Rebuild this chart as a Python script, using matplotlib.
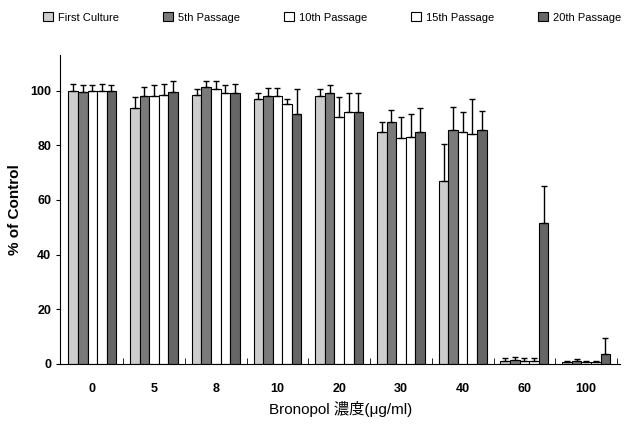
import numpy as np
import matplotlib
matplotlib.use('Agg')
import matplotlib.pyplot as plt

# Data
concentrations = ['0', '5', '8', '10', '20', '30', '40', '60', '100']
series = ['First Culture', '5th Passage', '10th Passage', '15th Passage', '20th Passage']

first_culture = [100, 93.5, 98.5, 97, 98, 85, 67, 1.0, 0.5]
passage_5 = [99.5, 98, 101.5, 98, 99, 88.5, 85.5, 1.5, 1.0]
passage_10 = [100, 98, 100.5, 98, 90.5, 82.5, 85, 1.0, 0.5]
passage_15 = [100, 98.5, 99, 95, 92, 83, 84, 1.0, 0.5]
passage_20 = [100, 99.5, 99, 91.5, 92, 85, 85.5, 51.5, 3.5]

err_first = [2.5, 4, 2, 2, 2.5, 3.5, 13.5, 1.0, 0.7]
err_5 = [2.5, 3.5, 2, 3, 3, 4.5, 8.5, 1.0, 0.7]
err_10 = [2, 4, 3, 3, 7, 8, 7, 1.0, 0.7]
err_15 = [2.5, 4, 3, 2, 7, 8.5, 13, 1.0, 0.7]
err_20 = [2, 4, 3.5, 9, 7, 8.5, 7, 13.5, 6]

values = [first_culture, passage_5, passage_10, passage_15, passage_20]
errors = [err_first, err_5, err_10, err_15, err_20]
colors = ['#cdcdcd', '#7a7a7a', 'white', 'white', '#666666']

plt.rcParams['font.family'] = ['Liberation Sans', 'Noto Sans CJK JP', 'DejaVu Sans']

fig = plt.figure(figsize=(6.27, 4.24), dpi=100)
ax = fig.add_axes([0.096, 0.142, 0.893, 0.728])

x = np.arange(len(concentrations))
WIDTH = 0.155

handles = []
for i, (vals, errs, col) in enumerate(zip(values, errors, colors)):
    pos = x + (i - 2) * WIDTH
    bars = ax.bar(pos, vals, width=WIDTH, color=col, edgecolor='black',
                  linewidth=0.8, label=series[i])
    ax.errorbar(pos, vals, yerr=[np.zeros(len(vals)), errs], fmt='none',
                ecolor='black', elinewidth=1.0, capsize=2, capthick=1.0)
    handles.append(bars)

ax.set_xlim(-0.52, 8.55)
ax.set_ylim(0, 113)
ax.set_yticks([0, 20, 40, 60, 80, 100])
ax.set_xticks(x)
ax.set_xticklabels(concentrations)
ax.set_xticks(np.arange(0.5, 9, 1), minor=True)
ax.tick_params(axis='x', which='major', length=0, pad=14, labelsize=9)
ax.tick_params(axis='x', which='minor', direction='in', length=4)
ax.tick_params(axis='y', direction='out', length=3, labelsize=9)
for lbl in ax.get_xticklabels() + ax.get_yticklabels():
    lbl.set_fontweight('bold')

ax.spines['top'].set_visible(False)
ax.spines['right'].set_visible(False)

ax.set_ylabel('% of Control', fontsize=11, fontweight='bold')
ax.yaxis.set_label_coords(-0.068, 0.5)
ax.set_xlabel('Bronopol 濃度(μg/ml)', fontsize=11)
ax.xaxis.set_label_coords(0.5, -0.12)

fig.legend(handles=handles, labels=series, loc='upper center',
           bbox_to_anchor=(0.53, 0.995), ncol=5, frameon=False, fontsize=8,
           handlelength=0.9, handleheight=0.9, columnspacing=4.0,
           handletextpad=0.4)

fig.savefig('out.png', dpi=100)
